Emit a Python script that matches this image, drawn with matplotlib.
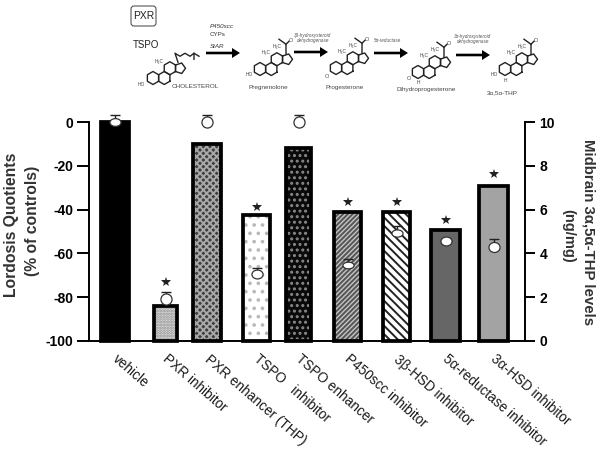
import numpy as np
import matplotlib
matplotlib.use("Agg")
import matplotlib.pyplot as plt
from matplotlib.markers import MarkerStyle
from matplotlib.patches import FancyBboxPatch
from matplotlib.transforms import Affine2D, ScaledTranslation

plt.rcParams['font.family'] = ['Liberation Sans', 'DejaVu Sans']
plt.rcParams['hatch.linewidth'] = 1.4
plt.rcParams['axes.unicode_minus'] = False

# Chart values
categories = ["vehicle", "PXR inhibitor", "PXR enhancer (THP)", "TSPO   inhibitor",
              "TSPO enhancer", "P450scc inhibitor", "3β-HSD inhibitor",
              "5α-reductase inhibitor", "3α-HSD inhibitor"]
lordosis = [0, -84, -10, -42.5, -12, -41, -41, -49.5, -29]
thp_levels = [10.0, 1.9, 10.0, 3.05, 10.0, 3.45, 4.95, 4.55, 4.3]
thp_err = [0.3, 0.35, 0.3, 0.3, 0.3, 0.3, 0.3, 0.1, 0.35]
star_levels = [np.nan, -73, np.nan, -39, np.nan, -36.5, -36.5, -44.7, -23.7]

# Layout, x axis runs in image pixels
bar_x = [115, 165.5, 207, 256.5, 298.5, 347.5, 396.5, 445.5, 493.5]
bar_w = [28, 23, 28, 27, 25, 27, 27, 29, 29]
bar_colors = ["black", "#e4e4e4", "#3e3e3e", "white", "#0a0a0a", "#c4c4c4", "white", "#666666", "#a3a3a3"]
hatch_colors = ["black", "#8a8a8a", "#a8a8a8", "#b8b8b8", "#8a8a8a", "#555555", "#222222", "#666666", "#a3a3a3"]
hatches = [None, "......", "xxxxx", "..", "...", "///////", "\\\\\\\\", None, None]
squash = [0.7, 1, 1, 0.8, 1, 0.6, 0.65, 0.8, 0.9]
W, H = 604, 451

fig = plt.figure(figsize=(W / 100, H / 100), dpi=100)
ax = fig.add_axes([89 / W, (H - 341) / H, (525 - 89) / W, (341 - 122) / H])
ax.set_xlim(89, 525)
ax.set_ylim(-100, 0)

# Fill and hatch first, then the thick black outline on top
ax.bar(bar_x, np.array(lordosis) + 100, bottom=-100, width=bar_w, color=bar_colors,
       edgecolor=hatch_colors, hatch=hatches, linewidth=0)
ax.bar(bar_x, np.array(lordosis) + 100, bottom=-100, width=bar_w, fill=False,
       edgecolor="black", linewidth=2.7, clip_on=False)
ax.plot(bar_x, star_levels, ls="none", marker="*", ms=7.5, mew=0, color="#222222", clip_on=False, zorder=5)

for s in ["top", "right"]:
    ax.spines[s].set_visible(False)
for s in ["left", "bottom"]:
    ax.spines[s].set_linewidth(1.4)
ax.set_yticks([0, -20, -40, -60, -80, -100])
ax.tick_params(axis="y", length=8.5, width=1.4, labelsize=10, pad=3)
for t in ax.get_yticklabels():
    t.set_fontweight("bold")
ax.set_xticks(bar_x)
ax.set_xticklabels(categories, rotation=-41, ha="left", va="top", rotation_mode="anchor",
                   fontsize=9.8, color="#1a1a1a")
ax.tick_params(axis="x", length=0, pad=8)
shift = ScaledTranslation(4 / 100, 0, fig.dpi_scale_trans)
for t in ax.get_xticklabels():
    t.set_transform(t.get_transform() + shift)

# Right axis with the circles
ax2 = ax.twinx()
ax2.set_ylim(0, 10)
ax2.patch.set_visible(False)
for s in ["top", "left", "bottom"]:
    ax2.spines[s].set_visible(False)
ax2.spines["right"].set_linewidth(1.4)
ax2.set_yticks([0, 2, 4, 6, 8, 10])
ax2.tick_params(axis="y", length=7.5, width=1.4, labelsize=10, pad=3)
for t in ax2.get_yticklabels():
    t.set_fontweight("bold")

for x, v, e, q in zip(bar_x, thp_levels, thp_err, squash):
    ax2.errorbar([x], [v], yerr=[[0], [e]], color="#222222", capsize=3.5, capthick=1, elinewidth=1,
                 ls="none", clip_on=False)
    for cap in ax2.lines[-2:]:
        cap.set_clip_on(False)
    ax2.plot([x], [v], ls="none", marker=MarkerStyle("o", transform=Affine2D().scale(1, q)), ms=8,
             mfc="white", mec="#333333", mew=0.9, clip_on=False, zorder=6)

# Overlay in image pixels for axis titles and the pathway
top = fig.add_axes([0, 0, 1, 1])
top.set_xlim(0, W)
top.set_ylim(H, 0)
top.axis("off")
top.patch.set_visible(False)

top.text(12, 225, "Lordosis Quotients", rotation=90, ha="center", va="center", fontsize=11.3, fontweight="bold", color="#333333")
top.text(33, 221, "(% of controls)", rotation=90, ha="center", va="center", fontsize=11.3, fontweight="bold", color="#333333")
top.text(588, 232, "Midbrain 3α,5α-THP levels", rotation=270, ha="center", va="center", fontsize=10.8, fontweight="bold", color="#333333")
top.text(568, 236, "(ng/mg)", rotation=270, ha="center", va="center", fontsize=10.5, fontweight="bold", color="#333333")

LINE = "#222222"


def small(x, y, s, size=3.5):
    top.text(x, y, s, fontsize=size, ha="center", va="center", color="#444444")


def steroid(cx, cy, r=6.5, side_chain=False):
    # rings A, B, C as hexagons and ring D as a pentagon
    dx = r * np.sqrt(3)
    for hx, hy in [(cx, cy), (cx + dx, cy), (cx + 1.5 * dx, cy - 1.5 * r)]:
        a = np.radians(np.arange(30, 391, 60))
        top.plot(hx + r * np.cos(a), hy + r * np.sin(a), color=LINE, lw=1)
    px, py = cx + 2 * dx + 0.69 * r, cy - 1.5 * r
    a = np.radians(np.array([144, 216, 288, 0, 72, 144]))
    top.plot(px + r * 0.85 * np.cos(a), py - r * 0.85 * np.sin(a), color=LINE, lw=1)
    small(cx + 0.5 * dx, cy - 2.5 * r, "H₃C")
    if side_chain:
        top.plot(px + np.array([-2, -5, 0, 5, 10, 14, 14]), py + np.array([-6, -15, -12, -15, -12, -15, -9]),
                 color=LINE, lw=1)
        top.plot([px + 14, px + 19], [py - 15, py - 12], color=LINE, lw=1)
    else:
        top.plot(px + np.array([-1, -1, -8]), py + np.array([-5, -15, -20]), color=LINE, lw=1)
        top.plot([px - 1, px + 2], [py - 15, py - 18], color=LINE, lw=1)
        small(px + 4, py - 19, "O", 4)
        small(px - 10, py - 13, "H₃C")


steroid(153, 78, side_chain=True)
steroid(260, 69)
steroid(336, 68)
steroid(418, 72)
steroid(505, 69)
small(141, 84, "HO")
small(249, 75, "HO")
small(327, 76, "O", 4)
small(409, 78, "O", 4)
small(494, 75, "HO")
small(418, 82, "H")
small(505, 80, "H")

for x0, x1, y in [(206, 240, 53), (294, 328, 52), (374, 408, 53), (456, 490, 55)]:
    top.arrow(x0, y, x1 - x0, 0, width=2.6, head_width=10, head_length=8, length_includes_head=True,
              color="black", lw=0)

top.add_patch(FancyBboxPatch((131, 6), 25, 20, boxstyle="round,pad=0,rounding_size=3", fc="white", ec="#555555", lw=0.8))
top.text(143.5, 16, "PXR", fontsize=7.4, ha="center", va="center", color="#222222")
top.text(146, 45, "TSPO", fontsize=7, ha="center", va="center", color="#222222")
top.text(210, 26, "P450scc", fontsize=4.5, style="italic", va="center", color="#333333")
top.text(210, 35, "CYPs", fontsize=4.5, va="center", color="#333333")
top.text(210, 46, "StAR", fontsize=4.5, style="italic", va="center", color="#333333")
top.text(195, 86, "CHOLESTEROL", fontsize=4.6, ha="center", va="center", color="#444444")
top.text(268, 87, "Pregnenolone", fontsize=4.6, ha="center", va="center", color="#444444")
top.text(345, 87, "Progesterone", fontsize=4.6, ha="center", va="center", color="#444444")
top.text(426, 89, "Dihydroprogesterone", fontsize=4.6, ha="center", va="center", color="#444444")
top.text(502, 93, "3α,5α-THP", fontsize=4.6, ha="center", va="center", color="#444444")
top.text(313, 38, "3β-hydroxysteroid\ndehydrogenase", fontsize=3.3, style="italic", ha="center", va="center", color="#555555")
top.text(388, 41, "5α-reductase", fontsize=3.3, style="italic", ha="center", va="center", color="#555555")
top.text(473, 39, "3α-hydroxysteroid\ndehydrogenase", fontsize=3.3, style="italic", ha="center", va="center", color="#555555")

fig.savefig("out.png", dpi=100)
